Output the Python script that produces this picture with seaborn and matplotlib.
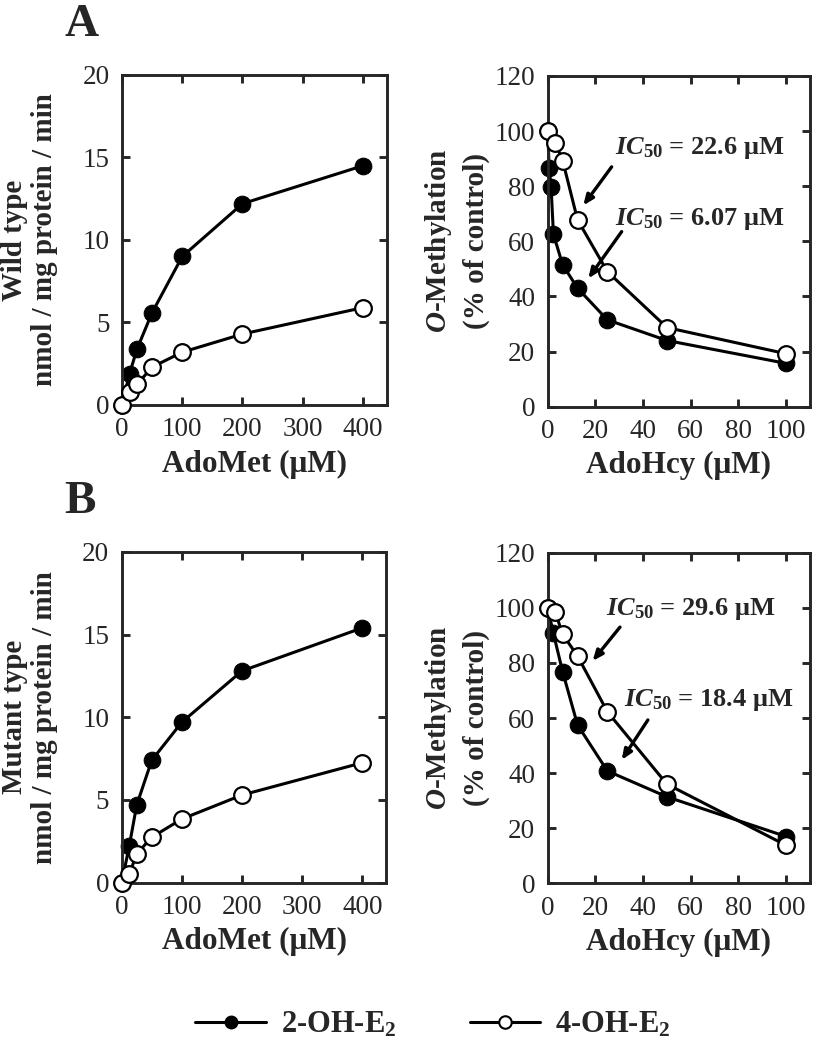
import numpy as np
import pandas as pd
import matplotlib
matplotlib.use('Agg')
import matplotlib.pyplot as plt
from matplotlib.lines import Line2D
import seaborn as sns

# data
adomet = [0, 12.5, 25, 50, 100, 200, 400]
wt_2oh = [0, 1.9, 3.4, 5.6, 9.0, 12.2, 14.5]
wt_4oh = [0, 0.8, 1.25, 2.3, 3.2, 4.3, 5.9]
mut_2oh = [0, 2.2, 4.7, 7.4, 9.7, 12.8, 15.4]
mut_4oh = [0, 0.5, 1.75, 2.75, 3.85, 5.3, 7.25]

adohcy_wt_2oh = [0, 0.6, 1.4, 2.4, 6.25, 12.5, 25, 50, 100]
adohcy_mut_2oh = [0, 2.3, 6.25, 12.5, 25, 50, 100]
adohcy_4oh = [0, 3.125, 6.25, 12.5, 25, 50, 100]
wt_inh_2oh = [100, 86.5, 79.6, 62.5, 51.5, 43, 31.5, 24, 15.7]
wt_inh_4oh = [100, 95.8, 89.3, 67.8, 49, 28.7, 19.2]
mut_inh_2oh = [100, 91, 76.8, 57.5, 40.8, 31.4, 17]
mut_inh_4oh = [100, 98.5, 90.4, 82.5, 62.3, 36, 13.8]

series_labels = ['2-OH-E$_\\mathbf{2}$', '4-OH-E$_\\mathbf{2}$']

sns.set_style('ticks')
plt.rcParams['font.family'] = ['Liberation Serif', 'DejaVu Serif']
plt.rcParams['mathtext.fontset'] = 'custom'
plt.rcParams['mathtext.rm'] = 'Liberation Serif'
plt.rcParams['mathtext.it'] = 'Liberation Serif:italic'
plt.rcParams['mathtext.bf'] = 'Liberation Serif:bold'
plt.rcParams['mathtext.bfit'] = 'Liberation Serif:italic:bold'

fig = plt.figure(figsize=(8.14, 10.5), dpi=100)
ax_a1 = fig.add_axes([0.1499, 0.6143, 0.3256, 0.3143])
ax_a2 = fig.add_axes([0.6729, 0.6127, 0.3222, 0.3150])
ax_b1 = fig.add_axes([0.1495, 0.1593, 0.3251, 0.3152])
ax_b2 = fig.add_axes([0.6729, 0.1587, 0.3222, 0.3149])


def draw(ax, x1, y1, x2, y2):
    sns.lineplot(x=x2, y=y2, ax=ax, color='black', linewidth=2.2, marker='o',
                 markersize=12, markerfacecolor='white', markeredgecolor='black',
                 markeredgewidth=1.6, sort=False, estimator=None, clip_on=False, zorder=3)
    sns.lineplot(x=x1, y=y1, ax=ax, color='black', linewidth=2.2, marker='o',
                 markersize=12, markerfacecolor='black', markeredgecolor='black',
                 sort=False, estimator=None, clip_on=False, zorder=2)


def style(ax, xlim, xticks, ylim, yticks):
    ax.set_xlim(*xlim)
    ax.set_ylim(*ylim)
    ax.set_xticks(xticks)
    ax.set_yticks(yticks)
    for s in ax.spines.values():
        s.set_linewidth(2.1)
        s.set_visible(True)
    ax.tick_params(direction='in', length=6, width=2.1, top=True, right=True,
                   labelsize=19.5, pad=9)


draw(ax_a1, adomet, wt_2oh, adomet, wt_4oh)
draw(ax_b1, adomet, mut_2oh, adomet, mut_4oh)
draw(ax_a2, adohcy_wt_2oh, wt_inh_2oh, adohcy_4oh, wt_inh_4oh)
draw(ax_b2, adohcy_mut_2oh, mut_inh_2oh, adohcy_4oh, mut_inh_4oh)

for ax in (ax_a1, ax_b1):
    style(ax, (0, 440), [0, 100, 200, 300, 400], (0, 20), [0, 5, 10, 15, 20])
    ax.set_xlabel('AdoMet (\u03bcM)', fontsize=22.5, fontweight='bold', labelpad=5)
for ax in (ax_a2, ax_b2):
    style(ax, (0, 110), [0, 20, 40, 60, 80, 100], (0, 120), [0, 20, 40, 60, 80, 100, 120])
    ax.set_xlabel('AdoHcy (\u03bcM)', fontsize=22.5, fontweight='bold', labelpad=5)
    ax.set_ylabel('$\\mathbfit{O}$-Methylation\n(% of control)', fontsize=21,
                  fontweight='bold', linespacing=1.4)
    ax.yaxis.set_label_coords(-0.22, 0.5)

ax_a1.set_ylabel('Wild type\nnmol / mg protein / min', fontsize=21,
                 fontweight='bold', linespacing=1.15)
ax_b1.set_ylabel('Mutant type\nnmol / mg protein / min', fontsize=21,
                 fontweight='bold', linespacing=1.15)
for ax in (ax_a1, ax_b1):
    ax.yaxis.set_label_coords(-0.24, 0.5)

# IC50 annotations: (value, text x/y, arrow tail, arrow head)
notes_a = [('22.6', (28, 94), (26.8, 87), (14.9, 73)),
           ('6.07', (28, 68), (31, 63.5), (17, 46.5))]
notes_b = [('29.6', (24.5, 99.5), (30.3, 93), (18.8, 80.7)),
           ('18.4', (32, 66.5), (42, 59.3), (31, 44.8))]
for ax, notes in ((ax_a2, notes_a), (ax_b2, notes_b)):
    for val, txy, tail, head in notes:
        ax.text(txy[0], txy[1], '$\\mathbfit{IC}_{\\mathbf{50}}$ = ' + val + ' \u03bcM',
                fontsize=19, fontweight='bold', ha='left', va='center')
        ax.annotate('', xy=head, xytext=tail,
                    arrowprops=dict(arrowstyle='-|>,head_length=0.6,head_width=0.25',
                                    color='black', lw=2.4, shrinkA=0, shrinkB=0))

fig.text(82 / 814, 1 - 25 / 1050, 'A', fontsize=34, fontweight='bold', ha='center', va='center')
fig.text(80 / 814, 1 - 502 / 1050, 'B', fontsize=34, fontweight='bold', ha='center', va='center')

handles = [Line2D([], [], color='black', lw=2.2, marker='o', ms=9, mfc='black', mec='black'),
           Line2D([], [], color='black', lw=2.2, marker='o', ms=9, mfc='white', mec='black', mew=1.5)]
fig.legend(handles, series_labels, loc='center', bbox_to_anchor=(0.532, 1 - 1025 / 1050),
           ncol=2, frameon=False, prop={'size': 22, 'weight': 'bold'},
           handlelength=2.3, handletextpad=0.5, columnspacing=2.4)

fig.savefig('out.png', dpi=100)
